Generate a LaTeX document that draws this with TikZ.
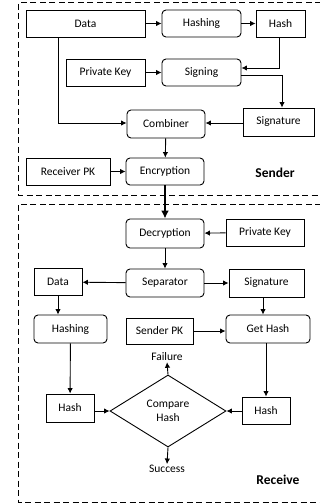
\documentclass[tikz,border=0pt]{standalone}
\usepackage{fontspec}
\setmainfont{Carlito}
\usetikzlibrary{arrows.meta,shapes.geometric}
\begin{document}
\begin{tikzpicture}[x=1pt,y=-1pt,
  font=\fontsize{11.5}{13}\selectfont,
  box/.style={draw,line width=0.9pt,inner sep=0pt,minimum height=27pt},
  rbox/.style={box,rounded corners=4pt},
  arr/.style={line width=0.9pt,-{Latex[length=5.5pt,width=5.5pt]}},
  zone/.style={line width=1pt,dash pattern=on 6pt off 3.5pt},
  lbl/.style={font=\fontsize{13.5}{15}\selectfont\bfseries}]
\useasboundingbox (0,0) rectangle (320,503);
% zones
\draw[zone] (340,3) -- (18,3) -- (18,195) -- (340,195);
\draw[zone] (340,204) -- (18,204) -- (18,502) -- (340,502);
% sender
\node[box,minimum width=119pt] (data) at (85.5,23.5) {Data};
\node[rbox,minimum width=79pt] (hashing) at (201.5,23.5) {Hashing};
\node[box,minimum width=49pt] (hash) at (280.5,23.5) {Hash};
\node[box,minimum width=79pt] (pk) at (105.5,72.5) {Private Key};
\node[rbox,minimum width=79pt] (sign) at (201.5,72.5) {Signing};
\node[box,minimum width=71pt,minimum height=28pt] (sig) at (278.5,122) {Signature};
\node[rbox,minimum width=78pt,minimum height=28pt] (comb) at (166,124) {Combiner};
\node[box,minimum width=84pt] (rpk) at (68,171.5) {Receiver PK};
\node[rbox,minimum width=78pt] (enc) at (165,171.5) {Encryption};
\node[lbl] (sender) at (275,173) {Sender};
% receiver
\node[rbox,minimum width=78pt,minimum height=29pt] (dec) at (165,233.5) {Decryption};
\node[box,minimum width=78pt] (pk2) at (265,232.5) {Private Key};
\node[rbox,minimum width=78pt,minimum height=28pt] (sep) at (165,283) {Separator};
\node[box,minimum width=48pt] (data2) at (58,282) {Data};
\node[box,minimum width=75pt,minimum height=28pt] (sig2) at (266.5,283) {Signature};
\node[rbox,minimum width=73pt,minimum height=28pt] (hashing2) at (70.5,329) {Hashing};
\node[box,minimum width=67pt,minimum height=26pt] (spk) at (159.5,331) {Sender PK};
\node[rbox,minimum width=84pt,minimum height=28pt] (gh) at (268,329) {Get Hash};
\node[diamond,draw,line width=0.9pt,inner sep=0pt,minimum width=116pt,minimum height=72pt,align=center] (cmp) at (168,411) {Compare\\[1pt]Hash};
\node[box,minimum width=48pt,minimum height=28pt] (hashL) at (70,408) {Hash};
\node[box,minimum width=48pt] (hashR) at (266,410.5) {Hash};
\node[inner sep=1pt] (fail) at (167,357) {Failure};
\node[inner sep=1pt] (succ) at (167,469) {Success};
\node[lbl] (receive) at (278,480) {Receive};
% sender arrows
\draw[arr] (data) -- (hashing);
\draw[arr] (hashing) -- (hash);
\draw[arr] ([xshift=-1.5pt]hash.south) |- ([yshift=4.5pt]sign.east);
\draw[arr] (pk) -- (sign);
\draw[arr] ([yshift=-2.5pt]sign.east) -| ([xshift=3.5pt]sig.north);
\draw[arr] ([xshift=-27.5pt]data.south) |- ([yshift=1pt]comb.west);
\draw[arr] (sig.west |- comb.east) ++(0,-1) -- ([yshift=1pt]comb.east);
\draw[arr] (comb) -- (enc);
\draw[arr] (rpk) -- (enc);
\draw[line width=2.6pt,-{Latex[length=8pt,width=8pt]}] (enc) -- (dec);
% receiver arrows
\draw[arr] (pk2) -- (dec);
\draw[arr] (dec) -- (sep);
\draw[arr] (sep) -- (data2);
\draw[arr] (sep) -- (sig2);
\draw[arr] (data2) -- (data2 |- hashing2.north);
\draw[arr] ([xshift=-3.5pt]sig2.south) -- ([xshift=-3.5pt]sig2.south |- gh.north);
\draw[arr] (spk) -- (spk -| gh.west);
\draw[arr] (hashing2) -- (hashL);
\draw[arr] (gh.south -| hashR.north) -- (hashR.north);
\draw[arr] (hashL.east |- cmp.west) -- (cmp.west);
\draw[arr] (hashR.west |- cmp.east) -- (cmp.east);
\draw[arr] (cmp.north) -- (fail.south);
\draw[arr] (cmp.south) -- (succ.north);
\end{tikzpicture}
\end{document}
